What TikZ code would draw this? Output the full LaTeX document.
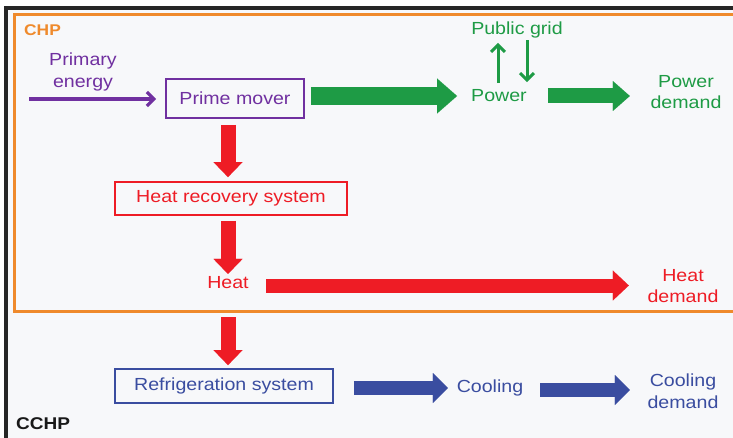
\documentclass[tikz,border=0pt]{standalone}
\usepackage{fontspec}
\setmainfont{Liberation Sans}[FakeStretch=1.12]
\usetikzlibrary{arrows.meta,calc}
\definecolor{cpurple}{HTML}{7030A0}
\definecolor{cgreen}{HTML}{1E9B45}
\definecolor{cred}{HTML}{EE1C25}
\definecolor{cblue}{HTML}{3A4DA0}
\definecolor{corange}{HTML}{EF8A2C}
\definecolor{cbg}{HTML}{F7F8FA}
\begin{document}
\begin{tikzpicture}[x=1pt,y=-1pt,
  txt/.style={font=\fontsize{17.5}{21.5}\selectfont, inner sep=0pt, align=center},
  boxnode/.style={draw, line width=1.8pt, font=\fontsize{17.5}{21.5}\selectfont, inner sep=0pt},
  fat/.style n args={3}{line width=#1pt, -{Triangle[width=#2pt,length=#3pt,line width=0.01pt]}},
  thin/.style={line width=#1, -{Straight Barb[length=7pt,width=14pt]}},
]
\useasboundingbox (0,0) rectangle (733,438);
% frames
\fill[white] (0,0) rectangle (733,438);
\fill[cbg] (6,8) rectangle (760,460);
\draw[line width=3.5pt, black!85] (6,8) rectangle (760,460);
\draw[corange, line width=3pt] (14,15) rectangle (760,311);
\node[anchor=west, inner sep=0pt, font=\fontsize{15.5}{18}\selectfont\bfseries, text=corange] (chp) at (24,30) {CHP};
\node[anchor=west, inner sep=0pt, font=\fontsize{17}{20}\selectfont\bfseries, text=black!90] (cchp) at (16,424) {CCHP};
% nodes
\node[txt, text=cpurple] (pe) at (83,72) {Primary\\energy};
\coordinate (pes) at (29,99);
\node[boxnode, draw=cpurple, text=cpurple, minimum width=138pt, minimum height=39pt] (pm) at (235,98.5) {Prime mover};
\node[txt, text=cgreen] (pw) at (499,96) {Power};
\node[txt, text=cgreen] (pg) at (517,30) {Public grid};
\node[txt, text=cgreen] (pd) at (686,92) {Power\\demand};
\node[boxnode, draw=cred, text=cred, minimum width=232pt, minimum height=33pt] (hr) at (231,198.5) {Heat recovery system};
\node[txt, text=cred] (ht) at (228,283) {Heat};
\node[txt, text=cred] (hd) at (683,286) {Heat\\demand};
\node[boxnode, draw=cblue, text=cblue, minimum width=218pt, minimum height=34pt] (ref) at (224,386) {Refrigeration system};
\node[txt, text=cblue] (cool) at (490,388) {Cooling};
\node[txt, text=cblue] (cd) at (683,391) {Cooling\\demand};
% connectors
\draw[cpurple, thin=3.2pt, shorten >=9pt] (pes) -- (pes -| pm.west);
\draw[cgreen, fat={18}{35}{20}, shorten <=6pt, shorten >=14pt] (pm.east |- pw.west) -- (pw.west);
\draw[cgreen, fat={15}{30}{17}, shorten <=21pt, shorten >=20.6pt] (pw.east) -- (pw.east -| pd.west);
\draw[cgreen, thin=3pt, shorten <=6.5pt, shorten >=4.5pt] ([xshift=-1pt]pw.north) -- ([xshift=-1pt]pw.north |- pg.south);
\draw[cgreen, thin=3pt, shorten <=2pt, shorten >=7.5pt] ([xshift=28pt]pw.north |- pg.south) -- ([xshift=28pt]pw.north);
\draw[cred, fat={15}{29}{15}, shorten <=6pt, shorten >=4pt] (pm.south -| ht) -- (hr.north -| ht);
\draw[cred, fat={15}{29}{15}, shorten <=5pt, shorten >=2.75pt] (hr.south -| ht) -- (ht.north);
\draw[cred, fat={14}{30}{16}, shorten <=17.3pt, shorten >=18.6pt] ([yshift=-2.5pt]ht.east) -- ([yshift=-2.5pt]ht.east -| hd.west);
\draw[cred, fat={15}{29}{15}, shorten <=27.75pt, shorten >=3pt] (ht.south) -- (ref.north -| ht);
\draw[cblue, fat={14}{30}{15}, shorten <=20pt, shorten >=8.8pt] ([yshift=-2pt]ref.east) -- ([yshift=-2pt]ref.east -| cool.west);
\draw[cblue, fat={14}{30}{15}, shorten <=16.8pt, shorten >=17.6pt] ([yshift=-2pt]cool.east) -- ([yshift=-2pt]cool.east -| cd.west);
\end{tikzpicture}
\end{document}
